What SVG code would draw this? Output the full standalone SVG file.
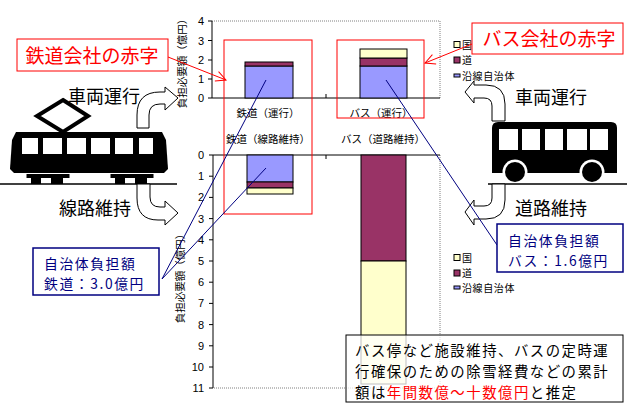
<svg xmlns="http://www.w3.org/2000/svg" width="627" height="411" viewBox="0 0 627 411">
<style>
.jp{font-family:"Noto Sans CJK JP","Noto Sans",sans-serif}
.num{font-family:"Liberation Sans",Arial,sans-serif;font-size:11px;fill:#000}
.cat{font-family:"Noto Sans CJK JP",sans-serif;font-size:10.5px;fill:#000}
.leg{font-family:"Noto Sans CJK JP",sans-serif;font-size:10px;letter-spacing:0.6px;fill:#000}
.ax{stroke:#000;stroke-width:1;fill:none}
.dot{stroke:#808080;stroke-width:1;stroke-dasharray:1 1;fill:none}
.bl{fill:#9999ff;stroke:#000;stroke-width:1}
.pu{fill:#993366;stroke:#000;stroke-width:1}
.ye{fill:#ffffcc;stroke:#000;stroke-width:1}
.arw{fill:#fff;stroke:#000;stroke-width:1}
.big{font-family:"Noto Sans CJK JP",sans-serif;font-size:18px;fill:#000}
.red{stroke:#ff0000;fill:none;stroke-width:1}
.navy{stroke:#000080;fill:none;stroke-width:1}
.bt{font-family:"Noto Sans CJK JP",sans-serif;font-size:13.8px;letter-spacing:1.6px;fill:#000080}
.nt{font-family:"Noto Sans CJK JP",sans-serif;font-size:14.4px;letter-spacing:1.5px;fill:#000}
</style>
<defs>
<marker id="ra" markerWidth="12" markerHeight="12" refX="11" refY="6" orient="auto" markerUnits="userSpaceOnUse"><path d="M1,1 L11,6 L1,11" fill="none" stroke="#ff0000" stroke-width="1"/></marker>
</defs>
<rect width="627" height="411" fill="#fff"/>

<g id="top-chart">
<path class="dot" d="M212,21 H440 V98"/>
<path class="ax" d="M212,21 V98 H440 M208,21 H212 M208,40.5 H212 M208,60 H212 M208,79 H212 M208,98 H212 M326,98 V94"/>
<text class="num" x="204" y="25" text-anchor="end">4</text>
<text class="num" x="204" y="44.5" text-anchor="end">3</text>
<text class="num" x="204" y="64" text-anchor="end">2</text>
<text class="num" x="204" y="83" text-anchor="end">1</text>
<text class="num" x="204" y="102" text-anchor="end">0</text>
<text class="cat" transform="translate(186,61) rotate(-90)" text-anchor="middle">負担必要額（億円）</text>
<rect class="bl" x="245" y="66" width="48" height="32"/>
<rect class="pu" x="245" y="62" width="48" height="4"/>
<rect class="bl" x="360" y="66" width="47" height="32"/>
<rect class="pu" x="360" y="58" width="47" height="8"/>
<rect class="ye" x="360" y="49" width="47" height="9"/>
<text class="cat" x="268" y="117" text-anchor="middle">鉄道（運行）</text>
<text class="cat" x="381" y="117" text-anchor="middle">バス（運行）</text>
<text class="cat" x="268" y="143" text-anchor="middle">鉄道（線路維持）</text>
<text class="cat" x="383" y="143" text-anchor="middle">バス（道路維持）</text>
<rect class="ye" x="454" y="41.5" width="6" height="6"/>
<text class="leg" x="462" y="48.5">国</text>
<rect class="pu" x="454" y="57" width="6" height="6"/>
<text class="leg" x="462" y="64">道</text>
<rect class="bl" x="454" y="74" width="6" height="3"/>
<text class="leg" x="462" y="79.5">沿線自治体</text>
</g>

<g id="bottom-chart">
<path class="dot" d="M440,155 V388 H213"/>
<path class="ax" d="M213,155 V388 M213,155 H440 M326,155 V159"/>
<path class="ax" d="M209,155 H213 M209,176.2 H213 M209,197.4 H213 M209,218.6 H213 M209,239.8 H213 M209,261 H213 M209,282.2 H213 M209,303.4 H213 M209,324.6 H213 M209,345.8 H213 M209,367 H213 M209,388 H213"/>
<text class="num" x="204" y="159" text-anchor="end">0</text>
<text class="num" x="204" y="180.2" text-anchor="end">1</text>
<text class="num" x="204" y="201.4" text-anchor="end">2</text>
<text class="num" x="204" y="222.6" text-anchor="end">3</text>
<text class="num" x="204" y="243.8" text-anchor="end">4</text>
<text class="num" x="204" y="265" text-anchor="end">5</text>
<text class="num" x="204" y="286.2" text-anchor="end">6</text>
<text class="num" x="204" y="307.4" text-anchor="end">7</text>
<text class="num" x="204" y="328.6" text-anchor="end">8</text>
<text class="num" x="204" y="349.8" text-anchor="end">9</text>
<text class="num" x="204" y="371" text-anchor="end">10</text>
<text class="num" x="204" y="392" text-anchor="end">11</text>
<text class="cat" transform="translate(184,276) rotate(-90)" text-anchor="middle">負担必要額（億円）</text>
<rect class="bl" x="247" y="155" width="46" height="27"/>
<rect class="pu" x="247" y="182" width="46" height="6"/>
<rect class="ye" x="247" y="188" width="46" height="6"/>
<rect class="pu" x="361" y="155" width="45" height="106"/>
<rect class="ye" x="361" y="261" width="45" height="123"/>
<rect class="ye" x="454" y="254.5" width="6" height="6"/>
<text class="leg" x="462" y="261.5">国</text>
<rect class="pu" x="454" y="270" width="6" height="6"/>
<text class="leg" x="462" y="277">道</text>
<rect class="bl" x="454" y="286" width="6" height="3"/>
<text class="leg" x="462" y="292">沿線自治体</text>
</g>

<g id="train">
<path d="M63,100 L88,116 L63,132 L37,116 Z" fill="#fff" stroke="#000" stroke-width="4"/>
<path d="M16,132 L162,132 L166,140 L168,169 L164,173 L14,173 L10,169 L12,140 Z" fill="#000"/>
<g fill="#fff">
<rect x="22" y="138" width="16" height="16"/>
<rect x="43" y="138" width="19" height="16"/>
<rect x="67" y="138" width="19" height="16"/>
<rect x="91" y="138" width="19" height="16"/>
<rect x="115" y="138" width="18" height="16"/>
<rect x="139" y="138" width="14" height="16"/>
</g>
<rect x="26" y="173.5" width="44" height="5" fill="#000" stroke="#fff" stroke-width="1"/>
<rect x="110" y="173.5" width="44" height="5" fill="#000" stroke="#fff" stroke-width="1"/>
<rect x="31" y="178" width="10" height="6" fill="#000"/>
<rect x="51" y="178" width="12" height="6" fill="#000"/>
<rect x="115" y="178" width="10" height="6" fill="#000"/>
<rect x="135" y="178" width="12" height="6" fill="#000"/>
<path d="M0,184 H177" stroke="#000" stroke-width="1.5"/>
</g>

<g id="bus">
<path d="M492,173 V128 Q492,122 498,122 H611 Q617,122 617,128 V173 Z" fill="#000"/>
<g fill="#fff">
<rect x="499" y="129" width="19" height="21"/>
<rect x="522" y="129" width="18" height="21"/>
<rect x="545" y="129" width="18" height="21"/>
<rect x="567" y="129" width="20" height="21"/>
<rect x="590" y="129" width="18" height="21"/>
</g>
<circle cx="515" cy="172" r="12.5" fill="#fff"/>
<circle cx="592" cy="172" r="12.5" fill="#fff"/>
<circle cx="515" cy="172" r="10" fill="#000"/>
<circle cx="592" cy="172" r="10" fill="#000"/>
<path d="M488,184 H627" stroke="#000" stroke-width="1.5"/>
</g>

<g id="arrows">
<path class="arw" d="M137,128 L137,115 Q137,92 160,92 L165,92 L165,87 L178,98 L165,110 L165,104 L160,104 Q149,104 149,115 L149,128 Z"/>
<path class="arw" d="M137,184 L137,198 Q137,220 158,220 L165,220 L165,225 L178,213 L165,201 L165,207 L160,207 Q150,207 150,197 L150,184 Z"/>
<path class="arw" d="M505,121 L505,104 Q505,85 486,85 L474,85 L474,81 L465,92 L474,103 L474,98 L484,98 Q492,98 492,106 L492,121 Z"/>
<path class="arw" d="M505,184 L505,200 Q505,219 486,219 L474,219 L474,225 L465,212 L474,200 L474,206 L484,206 Q492,206 492,198 L492,184 Z"/>
</g>
<g id="arrow-labels">
<text class="big" x="68" y="103">車両運行</text>
<text class="big" x="59" y="215">線路維持</text>
<text class="big" x="515" y="104">車両運行</text>
<text class="big" x="515" y="215">道路維持</text>
</g>

<g id="red-frames">
<rect class="red" x="224" y="40" width="88" height="174"/>
<rect class="red" x="337" y="40" width="87" height="78"/>
</g>

<g id="connectors">
<path class="red" d="M168,57 L226,80" marker-end="url(#ra)"/>
<path class="red" d="M472,44 L425,63" marker-end="url(#ra)"/>
<path class="navy" d="M162,279 L266,80 M162,279 L266,168 M386,80 L497,245"/>
</g>

<g id="callout-rail-deficit">
<rect x="17" y="39" width="151" height="32" fill="#fff" stroke="#ff0000" stroke-width="1"/>
<text class="jp" x="92" y="63" text-anchor="middle" font-size="19" fill="#ff0000">鉄道会社の赤字</text>
</g>
<g id="callout-bus-deficit">
<rect x="472" y="23" width="151" height="31" fill="#fff" stroke="#ff0000" stroke-width="1"/>
<text class="jp" x="549" y="46" text-anchor="middle" font-size="19" fill="#ff0000">バス会社の赤字</text>
</g>
<g id="callout-rail-local">
<rect x="33" y="248" width="126" height="47" fill="#fff" stroke="#000080" stroke-width="1.5"/>
<text class="bt" x="44" y="268.5">自治体負担額</text>
<text class="bt" x="44" y="288.5">鉄道：3.0億円</text>
</g>
<g id="callout-bus-local">
<rect x="497" y="224" width="126" height="48" fill="#fff" stroke="#000080" stroke-width="1.5"/>
<text class="bt" x="508" y="245.5">自治体負担額</text>
<text class="bt" x="508" y="265.5">バス：1.6億円</text>
</g>
<g id="note">
<rect x="346" y="335" width="277" height="67" fill="#fff" fill-opacity="0.75" stroke="#000" stroke-width="1"/>
<text class="nt" x="355" y="355.5">バス停など施設維持、バスの定時運</text>
<text class="nt" x="355" y="376.5">行確保のための除雪経費などの累計</text>
<text class="nt" x="355" y="397.5">額は<tspan fill="#ff0000">年間数億～十数億円</tspan>と推定</text>
</g>
</svg>
